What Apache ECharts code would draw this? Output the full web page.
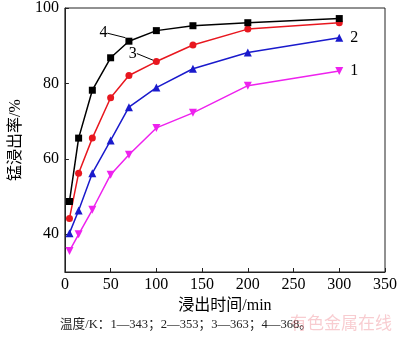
<!DOCTYPE html>
<html>
<head>
<meta charset="utf-8">
<script src="https://cdn.jsdelivr.net/npm/echarts@6/dist/echarts.min.js"></script>
<style>
  html, body { margin: 0; padding: 0; background: #fff; }
  #chart { width: 400px; height: 340px; }
</style>
</head>
<body>
<div id="chart"></div>
<script>
// Leaching time (min) and Mn leaching rate (%) at four temperatures
const times = [5, 15, 30, 50, 70, 100, 140, 200, 300];
const rate343 = [35.6, 40.0, 46.5, 55.8, 61.1, 68.2, 72.2, 79.4, 83.3];
const rate353 = [40.3, 46.3, 56.2, 64.9, 73.7, 78.9, 83.9, 88.2, 92.1];
const rate363 = [44.2, 56.2, 65.5, 76.2, 82.1, 85.8, 90.2, 94.4, 96.1];
const rate368 = [48.7, 65.5, 78.2, 86.8, 91.2, 94.0, 95.3, 96.1, 97.2];
const yTicks = [40, 60, 80, 100];

const serif = '"Liberation Serif", "Times New Roman", "Noto Sans CJK SC", serif';
const cjk = '"Liberation Serif", "Noto Sans CJK SC", serif';

function pairs(vals) {
  return times.map((t, i) => [t, vals[i]]);
}

// data with a curve label on one point
function labelled(vals, idx, text, labelOpts) {
  return pairs(vals).map((p, i) => {
    if (i !== idx) return p;
    return { value: p, label: Object.assign({ show: true, formatter: text }, labelOpts) };
  });
}

const labelText = { color: '#000', fontFamily: serif, fontSize: 16 };

function curve(name, vals, color, symbol, size, rotate, idx, labelOpts, layout, withLine) {
  const s = {
    name: name,
    type: 'line',
    data: labelled(vals, idx, name, Object.assign({}, labelText, labelOpts)),
    symbol: symbol,
    symbolSize: size,
    symbolRotate: rotate,
    lineStyle: { color: color, width: 1.5 },
    itemStyle: { color: color },
    label: { show: false },
    emphasis: { disabled: true },
    z: 3
  };
  if (layout) s.labelLayout = layout;
  if (withLine) s.labelLine = { show: true, lineStyle: { color: '#000', width: 1 }, length2: 0, smooth: false };
  return s;
}

const chart = echarts.init(document.getElementById('chart'), null, { renderer: 'canvas' });
chart.setOption({
  animation: false,
  backgroundColor: '#fff',
  grid: { left: 57, right: 12, top: 6, bottom: 68, show: true, borderColor: '#222', borderWidth: 1, backgroundColor: 'transparent' },
  xAxis: {
    type: 'value', min: 0, max: 350, interval: 50,
    name: '浸出时间/min', nameLocation: 'middle', nameGap: 20,
    nameTextStyle: { fontFamily: cjk, fontSize: 16, color: '#000' },
    axisLine: { lineStyle: { color: '#222', width: 1 } },
    axisTick: { inside: true, length: 4, lineStyle: { color: '#222' } },
    axisLabel: { fontFamily: serif, fontSize: 16, color: '#000', margin: 5 },
    splitLine: { show: false }
  },
  yAxis: {
    type: 'value', min: 30, max: 100,
    name: '锰浸出率/%', nameLocation: 'middle', nameGap: 24, nameRotate: 90,
    nameTextStyle: { fontFamily: cjk, fontSize: 16, color: '#000' },
    axisLine: { show: true, lineStyle: { color: '#222', width: 1 } },
    axisTick: { show: true, inside: true, length: 4, customValues: yTicks, lineStyle: { color: '#222' } },
    axisLabel: { fontFamily: serif, fontSize: 16, color: '#000', margin: 6, customValues: yTicks },
    splitLine: { show: false }
  },
  series: [
    curve('1', rate343, '#ee22ee', 'triangle', 8, 180, 8, { position: 'right', distance: 7 }),
    curve('2', rate353, '#1a1acc', 'triangle', 8, 0, 8, { position: 'right', distance: 7 }),
    curve('3', rate363, '#e8171f', 'circle', 7, 0, 5, { position: 'left', distance: 0 },
      { dx: -16, dy: -8 }, true),
    curve('4', rate368, '#000000', 'rect', 7, 0, 4, { position: 'left', distance: 0 },
      { dx: -18, dy: -8 }, true)
  ],
  graphic: [
    {
      type: 'text', left: 60, top: 318,
      style: { text: '温度/K：1—343；2—353；3—363；4—368。', font: '12.6px ' + cjk, fill: '#222' }
    },
    {
      type: 'text', left: 290, top: 314,
      style: { text: '有色金属在线', font: '17px "Noto Sans CJK SC", sans-serif', fill: 'rgba(235,110,120,0.35)' }
    }
  ]
});
</script>
</body>
</html>
